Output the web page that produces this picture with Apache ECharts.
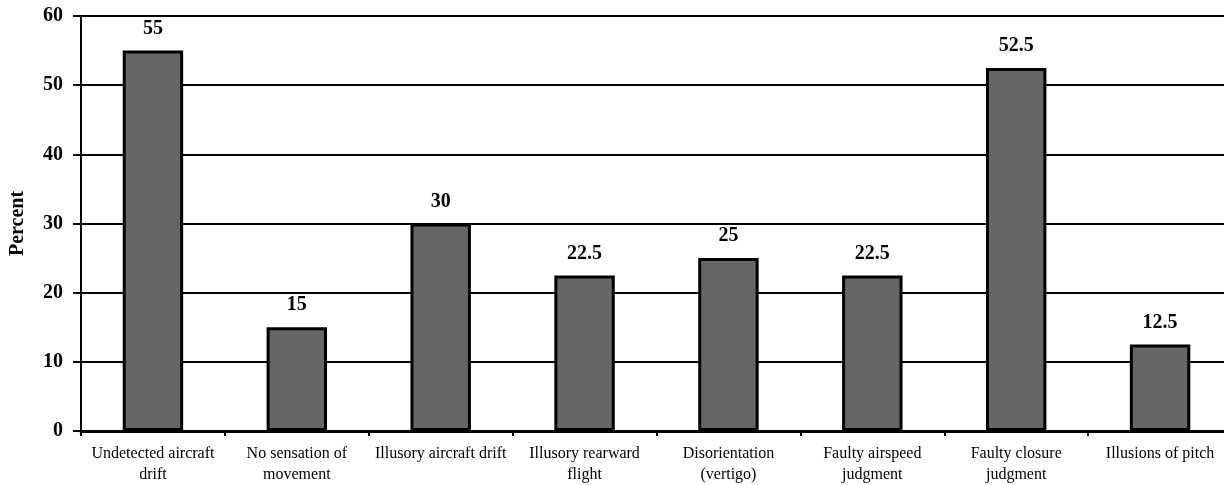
<!DOCTYPE html>
<html lang="en">
<head>
    <meta charset="UTF-8">
    <title>Percent</title>
    <script src="https://cdn.jsdelivr.net/npm/echarts@6/dist/echarts.min.js"></script>
    <style>
        html, body { margin: 0; padding: 0; background: #fff; }
        #main { width: 1224px; height: 485px; }
    </style>
</head>
<body>
<div id="main"></div>
<script>
    // data
    var categories = ['Undetected aircraft\ndrift', 'No sensation of\nmovement', 'Illusory aircraft drift',
        'Illusory rearward\nflight', 'Disorientation\n(vertigo)', 'Faulty airspeed\njudgment',
        'Faulty closure\njudgment', 'Illusions of pitch'];
    var percents = [55, 15, 30, 22.5, 25, 22.5, 52.5, 12.5];
    var yTicks = [0, 10, 20, 30, 40, 50, 60];

    var myChart = echarts.init(document.getElementById('main'));

    var serif = '"Liberation Serif", "DejaVu Serif", serif';

    var option = {
        animation: false,
        grid: { left: 81, right: -8, top: 16, bottom: 54, containLabel: false, outerBoundsMode: 'none' },
        xAxis: {
            type: 'category',
            data: categories,
            axisLine: { lineStyle: { color: '#000', width: 3 } },
            axisTick: { show: true, length: 5, lineStyle: { color: '#000', width: 2 } },
            axisLabel: {
                color: '#000', fontFamily: serif, fontSize: 16, lineHeight: 21,
                margin: 12, interval: 0
            }
        },
        yAxis: {
            type: 'value',
            min: yTicks[0],
            max: yTicks[yTicks.length - 1],
            interval: 10,
            name: 'Percent',
            nameLocation: 'middle',
            nameGap: 53,
            nameRotate: 90,
            nameTextStyle: { color: '#000', fontFamily: serif, fontSize: 20, fontWeight: 'bold' },
            axisLine: { show: true, lineStyle: { color: '#000', width: 2 } },
            axisTick: { show: true, length: 8, lineStyle: { color: '#000', width: 2 } },
            axisLabel: { color: '#000', fontFamily: serif, fontSize: 20, fontWeight: 'bold', margin: 18 },
            splitLine: { lineStyle: { color: '#000', width: 2 } }
        },
        series: [{
            type: 'bar',
            data: percents,
            barWidth: '42%',
            itemStyle: { color: '#666666', borderColor: '#000', borderWidth: 3 },
            label: {
                show: true, position: 'top', distance: 12,
                color: '#000', fontFamily: serif, fontSize: 20, fontWeight: 'bold'
            }
        }]
    };

    myChart.setOption(option);
</script>
</body>
</html>
